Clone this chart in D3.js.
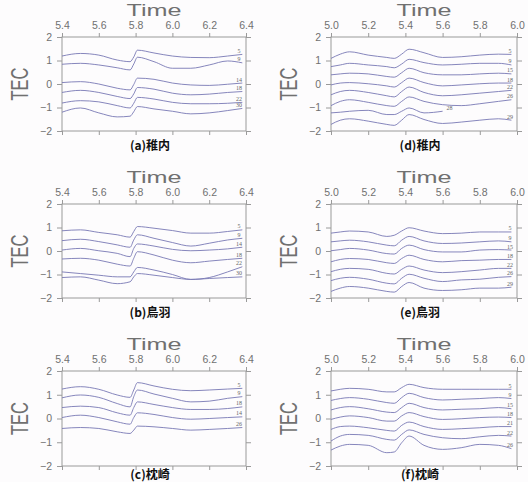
<!DOCTYPE html>
<html>
<head>
<meta charset="utf-8">
<script src="https://cdn.jsdelivr.net/npm/d3@7"></script>
<style>
  body { margin: 0; background: #fdfcfd; }
  svg { display: block; }
  .tick-label { font-family: "Liberation Sans", Arial, sans-serif; font-size: 10.5px; fill: #707070; }
  .axis-title { font-family: "Liberation Sans", Arial, sans-serif; fill: #707070; }
  .caption { font-family: "Noto Sans CJK JP", "Noto Sans", sans-serif; font-size: 12px; font-weight: bold; fill: #111; }
  .prn { font-family: "Liberation Serif", serif; font-size: 6px; fill: #666; }
</style>
</head>
<body>
<div id="chart"></div>
<script>
// time samples (hours UT) for the left column and right column
var timesLeft  = [5.40, 5.50, 5.60, 5.70, 5.77, 5.79, 5.81, 5.90, 6.00, 6.10, 6.20, 6.30, 6.38];
var timesRight = [5.00, 5.05, 5.10, 5.20, 5.30, 5.34, 5.38, 5.42, 5.50, 5.60, 5.70, 5.80, 5.90, 5.97];

var ticksLeft  = [5.4, 5.6, 5.8, 6.0, 6.2, 6.4];
var ticksRight = [5.0, 5.2, 5.4, 5.6, 5.8, 6.0];
var ticksTec   = [2, 1, 0, -1, -2];

var captions = ["(a)稚内", "(b)鳥羽", "(c)枕崎", "(d)稚内", "(e)鳥羽", "(f)枕崎"];

// (a) 稚内
var prnA = ["5", "9", "14", "18", "22", "30"];
var tecA = [
  [1.19, 1.30, 1.23, 1.02, 0.95, 1.15, 1.44, 1.32, 1.19, 1.13, 1.12, 1.19, 1.26],
  [0.84, 0.88, 0.81, 0.69, 0.60, 0.85, 1.14, 0.95, 0.67, 0.67, 0.81, 0.98, 0.90],
  [0.06, 0.10, 0.00, -0.18, -0.25, -0.02, 0.25, 0.20, 0.04, -0.04, -0.06, -0.01, 0.04],
  [-0.36, -0.27, -0.36, -0.53, -0.62, -0.42, -0.15, -0.22, -0.39, -0.46, -0.43, -0.36, -0.32],
  [-0.81, -0.71, -0.76, -0.92, -1.02, -0.82, -0.57, -0.64, -0.78, -0.84, -0.84, -0.82, -0.78],
  [-1.20, -1.02, -1.23, -1.40, -1.37, -1.18, -0.96, -1.06, -1.16, -1.27, -1.23, -1.13, -1.04]
];

// (b) 鳥羽
var prnB = ["5", "9", "14", "18", "22", "30"];
var tecB = [
  [0.86, 0.90, 0.79, 0.69, 0.59, 0.83, 1.04, 0.97, 0.87, 0.76, 0.76, 0.83, 0.90],
  [0.44, 0.50, 0.40, 0.26, 0.16, 0.47, 0.69, 0.54, 0.36, 0.21, 0.33, 0.47, 0.54],
  [0.04, 0.11, 0.01, -0.10, -0.24, 0.11, 0.30, 0.21, 0.07, 0.01, 0.04, 0.09, 0.16],
  [-0.34, -0.31, -0.39, -0.56, -0.64, -0.31, -0.03, -0.17, -0.39, -0.50, -0.43, -0.36, -0.31],
  [-0.89, -0.96, -1.03, -1.10, -1.10, -0.89, -0.70, -0.81, -1.00, -1.21, -1.13, -0.89, -0.67],
  [-1.13, -1.10, -1.24, -1.39, -1.31, -1.10, -0.96, -1.03, -1.13, -1.21, -1.17, -1.13, -1.10]
];

// (c) 枕崎
var prnC = ["5", "9", "18", "14", "26"];
var tecC = [
  [1.24, 1.34, 1.23, 0.99, 0.89, 1.20, 1.51, 1.37, 1.23, 1.17, 1.20, 1.24, 1.27],
  [0.87, 0.99, 0.89, 0.63, 0.49, 0.92, 1.20, 1.03, 0.85, 0.70, 0.73, 0.85, 0.92],
  [0.46, 0.52, 0.46, 0.24, 0.14, 0.46, 0.70, 0.59, 0.46, 0.38, 0.38, 0.42, 0.49],
  [0.04, 0.14, 0.04, -0.14, -0.24, 0.04, 0.24, 0.17, 0.04, -0.03, 0.00, 0.04, 0.07],
  [-0.42, -0.38, -0.42, -0.56, -0.63, -0.49, -0.32, -0.35, -0.42, -0.49, -0.46, -0.42, -0.38]
];

// (d) 稚内
var prnD = ["5", "9", "15", "18", "22", "26", "28", "29"];
var tecD = [
  [1.09, 1.27, 1.37, 1.23, 1.13, 1.09, 1.27, 1.48, 1.33, 1.13, 1.16, 1.23, 1.27, 1.26],
  [0.74, 0.81, 0.88, 0.81, 0.74, 0.69, 0.85, 1.05, 0.91, 0.81, 0.84, 0.88, 0.88, 0.81],
  [0.39, 0.43, 0.46, 0.43, 0.32, 0.29, 0.48, 0.67, 0.48, 0.39, 0.39, 0.43, 0.46, 0.43],
  [-0.04, 0.04, 0.06, 0.01, -0.08, -0.13, 0.06, 0.25, 0.06, -0.08, -0.04, 0.01, 0.04, 0.04],
  [-0.46, -0.32, -0.27, -0.36, -0.50, -0.55, -0.32, -0.13, -0.36, -0.50, -0.46, -0.39, -0.32, -0.27],
  [-0.92, -0.74, -0.67, -0.78, -0.92, -0.95, -0.74, -0.55, -0.74, -0.88, -0.92, -0.84, -0.74, -0.67],
  [-1.23, -1.20, -1.16, -1.12, -1.30, -1.30, -1.16, -1.02, -1.23, -1.16, null, null, null, null],
  [-1.72, -1.54, -1.48, -1.58, -1.72, -1.76, -1.54, -1.30, -1.51, -1.68, -1.62, -1.54, -1.48, -1.54]
];

// (e) 鳥羽
var prnE = ["5", "9", "15", "18", "22", "26", "29"];
var tecE = [
  [0.76, 0.81, 0.85, 0.81, 0.62, 0.67, 0.85, 0.99, 0.85, 0.74, 0.76, 0.81, 0.81, 0.81],
  [0.39, 0.43, 0.46, 0.39, 0.25, 0.22, 0.46, 0.62, 0.43, 0.32, 0.34, 0.39, 0.43, 0.39],
  [0.01, 0.06, 0.11, 0.04, -0.11, -0.13, 0.11, 0.25, 0.06, -0.04, -0.04, 0.04, 0.06, 0.04],
  [-0.46, -0.36, -0.32, -0.36, -0.50, -0.53, -0.32, -0.18, -0.36, -0.46, -0.41, -0.39, -0.36, -0.36],
  [-0.88, -0.78, -0.74, -0.78, -0.95, -0.98, -0.78, -0.64, -0.81, -0.92, -0.88, -0.81, -0.74, -0.74],
  [-1.26, -1.16, -1.12, -1.20, -1.37, -1.40, -1.16, -0.99, -1.16, -1.30, -1.23, -1.20, -1.12, -1.09],
  [-1.72, -1.58, -1.51, -1.58, -1.72, -1.75, -1.51, -1.34, -1.58, -1.68, -1.65, -1.58, -1.58, -1.54]
];

// (f) 枕崎
var prnF = ["5", "9", "15", "18", "21", "22", "26"];
var tecF = [
  [1.16, 1.23, 1.27, 1.23, 1.12, 1.12, 1.30, 1.44, 1.30, 1.23, 1.23, 1.23, 1.23, 1.23],
  [0.76, 0.84, 0.88, 0.81, 0.67, 0.64, 0.88, 1.06, 0.88, 0.78, 0.81, 0.84, 0.88, 0.84],
  [0.36, 0.46, 0.50, 0.41, 0.27, 0.25, 0.46, 0.64, 0.46, 0.36, 0.39, 0.41, 0.46, 0.41],
  [-0.04, 0.06, 0.11, 0.04, -0.11, -0.11, 0.11, 0.25, 0.08, -0.04, -0.01, 0.04, 0.06, 0.04],
  [-0.46, -0.34, -0.32, -0.39, -0.50, -0.53, -0.29, -0.15, -0.34, -0.46, -0.43, -0.39, -0.34, -0.34],
  [-0.95, -0.74, -0.67, -0.71, -0.88, -0.91, -0.67, -0.48, -0.67, -0.81, -0.85, -0.77, -0.71, -0.74],
  [-1.33, -1.16, -1.09, -1.13, -1.44, -1.41, -1.02, -0.74, -1.13, -1.30, -1.23, -1.09, -1.13, -1.27]
];

var W = 528, H = 482;
var colX = [[62, 246], [331, 517]];
var rowY = [[37, 131], [204, 298], [371, 466]];
var captionY = [150, 317, 479];

var panels = [
  { col: 0, row: 0, times: timesLeft,  ticks: ticksLeft,  prn: prnA, tec: tecA },
  { col: 0, row: 1, times: timesLeft,  ticks: ticksLeft,  prn: prnB, tec: tecB },
  { col: 0, row: 2, times: timesLeft,  ticks: ticksLeft,  prn: prnC, tec: tecC },
  { col: 1, row: 0, times: timesRight, ticks: ticksRight, prn: prnD, tec: tecD },
  { col: 1, row: 1, times: timesRight, ticks: ticksRight, prn: prnE, tec: tecE },
  { col: 1, row: 2, times: timesRight, ticks: ticksRight, prn: prnF, tec: tecF }
];

var svg = d3.select("#chart").append("svg")
    .attr("width", W)
    .attr("height", H);

svg.append("rect").attr("width", W).attr("height", H).attr("fill", "#fdfcfd");

panels.forEach(function(p, i){
    var x0 = colX[p.col][0], x1 = colX[p.col][1];
    var y0 = rowY[p.row][0], y1 = rowY[p.row][1];

    var x = d3.scaleLinear()
        .domain([p.ticks[0], p.ticks[p.ticks.length - 1]])
        .range([x0, x1]);
    var y = d3.scaleLinear()
        .domain([-2, 2])
        .range([y1, y0]);

    var g = svg.append("g");

    // frame
    g.append("rect")
        .attr("x", x0).attr("y", y0)
        .attr("width", x1 - x0).attr("height", y1 - y0)
        .attr("fill", "none")
        .attr("stroke", "#9a9a9a")
        .attr("stroke-width", 1);

    // top axis with labels
    var top = g.append("g")
        .attr("transform", "translate(0," + y0 + ")")
        .call(d3.axisTop(x).tickValues(p.ticks).tickSize(4).tickFormat(d3.format(".1f")));
    // bottom ticks only
    var bottom = g.append("g")
        .attr("transform", "translate(0," + y1 + ")")
        .call(d3.axisBottom(x).tickValues(p.ticks).tickSize(4).tickFormat(""));
    // left axis with labels
    var left = g.append("g")
        .attr("transform", "translate(" + x0 + ",0)")
        .call(d3.axisLeft(y).tickValues(ticksTec).tickSize(5).tickPadding(5).tickFormat(d3.format("d")));
    // right ticks only
    var right = g.append("g")
        .attr("transform", "translate(" + x1 + ",0)")
        .call(d3.axisRight(y).tickValues(ticksTec).tickSize(5).tickFormat(""));

    [top, bottom, left, right].forEach(function(a){
        a.select(".domain").remove();
        a.selectAll(".tick line").attr("stroke", "#9a9a9a");
        a.selectAll(".tick text")
            .attr("class", "tick-label")
            .attr("fill", null);
    });
    top.selectAll(".tick text").attr("dy", "-0.05em");

    // axis titles
    g.append("text")
        .attr("class", "axis-title")
        .attr("x", (x0 + x1) / 2)
        .attr("y", y0 - 21)
        .attr("text-anchor", "middle")
        .attr("font-size", 16)
        .attr("textLength", 55)
        .attr("lengthAdjust", "spacingAndGlyphs")
        .text("Time");

    g.append("text")
        .attr("class", "axis-title")
        .attr("transform", "translate(" + (x0 - 34) + "," + ((y0 + y1) / 2) + ") rotate(-90)")
        .attr("text-anchor", "middle")
        .attr("font-size", 23)
        .attr("textLength", 33)
        .attr("lengthAdjust", "spacingAndGlyphs")
        .text("TEC");

    // caption
    g.append("text")
        .attr("class", "caption")
        .attr("x", (x0 + x1) / 2 - 4)
        .attr("y", captionY[p.row])
        .attr("text-anchor", "middle")
        .text(captions[i]);

    // TEC curves
    var line = d3.line()
        .defined(function(d){ return d[1] !== null; })
        .x(function(d){ return x(d[0]); })
        .y(function(d){ return y(d[1]); })
        .curve(d3.curveMonotoneX);

    var tEnd = p.ticks[p.ticks.length - 1];

    p.tec.forEach(function(vals, k){
        var pts = p.times.map(function(t, j){ return [t, vals[j]]; });
        g.append("path")
            .attr("d", line(pts))
            .attr("fill", "none")
            .attr("stroke", "#7878b4")
            .attr("stroke-width", 0.9);

        var last = pts.filter(function(d){ return d[1] !== null; }).pop();
        var short = last[0] < tEnd - 0.2;
        g.append("text")
            .attr("class", "prn")
            .attr("x", short ? x(last[0]) + 4 : x1 - 7)
            .attr("y", y(last[1]) - 1.5)
            .attr("text-anchor", short ? "start" : "middle")
            .text(p.prn[k]);
    });
});
</script>
</body>
</html>
